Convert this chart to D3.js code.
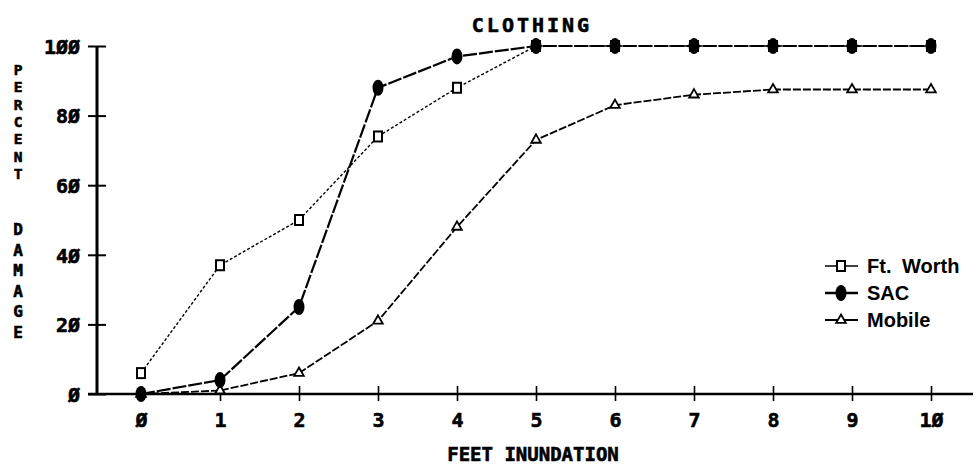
<!DOCTYPE html>
<html>
<head>
<meta charset="utf-8">
<script src="https://cdn.jsdelivr.net/npm/d3@7"></script>
<style>
  body { margin: 0; background: #fff; }
  svg { display: block; }
  .mono { font-family: "DejaVu Sans Mono", monospace; font-weight: bold; fill: #000; stroke: #000; stroke-width: 0.6px; }
</style>
</head>
<body>
<script>
// values
let feet = [0, 1, 2, 3, 4, 5, 6, 7, 8, 9, 10],
    ftWorth = [6, 37, 50, 74, 88, 100, 100, 100, 100, 100, 100],
    sac = [0, 4, 25, 88, 97, 100, 100, 100, 100, 100, 100],
    mobile = [0, 1, 6, 21, 48, 73, 83, 86, 87.5, 87.5, 87.5],
    yTicks = [0, 20, 40, 60, 80, 100],
    seriesNames = ["Ft. Worth", "SAC", "Mobile"];

let w = 976, h = 466;

let x = d3.scaleLinear().domain([0, 10]).range([141, 931]);
let y = d3.scaleLinear().domain([0, 100]).range([394, 46]);

let svg = d3.select("body").append("svg").attr("width", w).attr("height", h);

// title
svg.append("text").attr("class", "mono")
  .attr("x", 532).attr("y", 32)
  .attr("text-anchor", "middle")
  .style("font-size", "20px").style("letter-spacing", "3px")
  .text("CLOTHING");

// y axis
let yAxis = svg.append("g")
  .attr("transform", "translate(97,0)")
  .call(d3.axisLeft(y).tickValues(yTicks).tickSize(9).tickPadding(8));
yAxis.select(".domain").remove();
yAxis.selectAll(".tick line").attr("x1", -9).attr("x2", 9).attr("stroke-width", 2);
yAxis.selectAll(".tick text").attr("class", "mono")
  .style("font-size", "20px").attr("dy", "0.36em")
  .text(d => String(d).replace(/0/g, "\u00d8"));
svg.append("line").attr("x1", 97).attr("x2", 97).attr("y1", y(100)).attr("y2", y(0))
  .attr("stroke", "#000").attr("stroke-width", 3);

// x axis
let xAxis = svg.append("g")
  .attr("transform", "translate(0," + y(0) + ")")
  .call(d3.axisBottom(x).tickValues(feet).tickSize(7).tickPadding(12));
xAxis.select(".domain").remove();
xAxis.selectAll(".tick line").attr("y1", -8).attr("y2", 7).attr("stroke-width", 1.6);
xAxis.selectAll(".tick text").attr("class", "mono")
  .style("font-size", "20px")
  .text(d => String(d).replace(/0/g, "\u00d8"));
svg.append("line").attr("x1", 88).attr("x2", 973).attr("y1", y(0)).attr("y2", y(0))
  .attr("stroke", "#000").attr("stroke-width", 2.5);

// axis titles
svg.append("text").attr("class", "mono")
  .attr("x", 533).attr("y", 461).attr("text-anchor", "middle")
  .style("font-size", "19px")
  .text("FEET INUNDATION");

let yl = svg.append("g");
"PERCENT".split("").forEach((c, i) => {
  yl.append("text").attr("class", "mono").attr("x", 18).attr("y", 75 + i * 17.3)
    .attr("text-anchor", "middle").style("font-size", "14.5px").text(c);
});
"DAMAGE".split("").forEach((c, i) => {
  yl.append("text").attr("class", "mono").attr("x", 18).attr("y", 235 + i * 20.6)
    .attr("text-anchor", "middle").style("font-size", "16px").text(c);
});

let line = d3.line().x((d, i) => x(feet[i])).y(d => y(d));

// Ft. Worth
svg.append("path").datum(ftWorth).attr("d", line)
  .attr("fill", "none").attr("stroke", "#000").attr("stroke-width", 1.4)
  .attr("stroke-dasharray", "3,2");
// Mobile
svg.append("path").datum(mobile).attr("d", line)
  .attr("fill", "none").attr("stroke", "#000").attr("stroke-width", 1.8)
  .attr("stroke-dasharray", "8,2");
// SAC
svg.append("path").datum(sac).attr("d", line)
  .attr("fill", "none").attr("stroke", "#000").attr("stroke-width", 2.2)
  .attr("stroke-dasharray", "14,2");

let tri = d3.symbol().type(d3.symbolTriangle).size(40);

function squareMark(g) {
  g.append("rect").attr("x", -4).attr("y", -5).attr("width", 8).attr("height", 10)
    .attr("fill", "#fff").attr("stroke", "#000").attr("stroke-width", 2);
}
function sacMark(g) {
  g.append("ellipse").attr("rx", 5.5).attr("ry", 8).attr("fill", "#000");
}
function triMark(g) {
  g.append("path").attr("d", tri).attr("fill", "#fff")
    .attr("stroke", "#000").attr("stroke-width", 1.8);
}

svg.selectAll(".fw").data(ftWorth).enter().append("g")
  .attr("transform", (d, i) => "translate(" + x(feet[i]) + "," + y(d) + ")")
  .each(function() { squareMark(d3.select(this)); });
svg.selectAll(".mb").data(mobile).enter().append("g")
  .attr("transform", (d, i) => "translate(" + x(feet[i]) + "," + y(d) + ")")
  .each(function() { triMark(d3.select(this)); });
svg.selectAll(".sc").data(sac).enter().append("g")
  .attr("transform", (d, i) => "translate(" + x(feet[i]) + "," + y(d) + ")")
  .each(function() { sacMark(d3.select(this)); });

// legend
let marks = [squareMark, sacMark, triMark];
let widths = [1.4, 2.6, 1.8];
let legend = svg.append("g");
seriesNames.forEach((name, i) => {
  let ly = 266 + i * 27;
  legend.append("line").attr("x1", 825).attr("x2", 858).attr("y1", ly).attr("y2", ly)
    .attr("stroke", "#000").attr("stroke-width", widths[i]);
  let g = legend.append("g").attr("transform", "translate(841," + ly + ")");
  marks[i](g);
  legend.append("text").attr("x", 867).attr("y", ly + 7)
    .style("font-family", "'Liberation Sans', Arial, sans-serif")
    .style("font-weight", "bold").style("font-size", "20px")
    .style("word-spacing", "5px")
    .text(name);
});
</script>
</body>
</html>
